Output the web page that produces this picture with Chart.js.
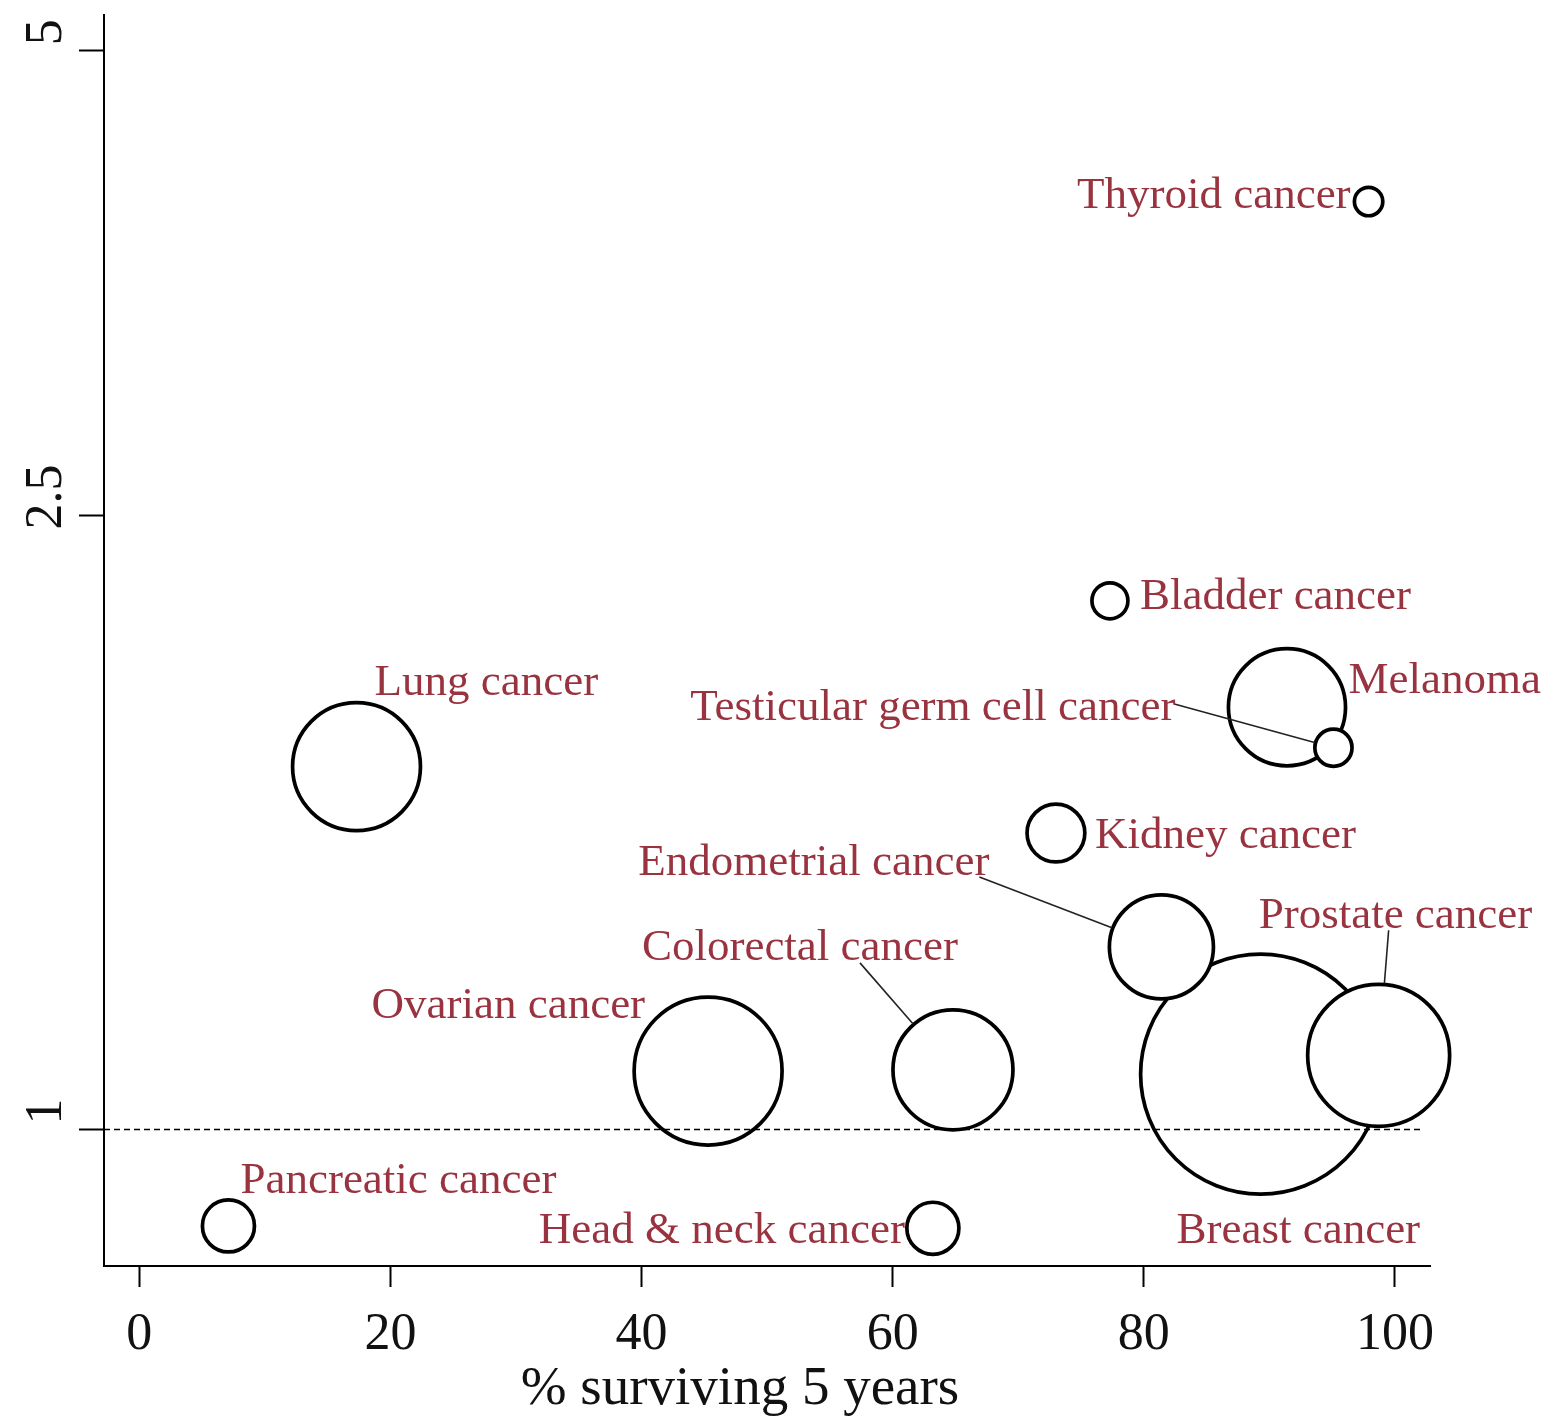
<!DOCTYPE html>
<html><head><meta charset="utf-8">
<script src="https://cdn.jsdelivr.net/npm/chart.js@4/dist/chart.umd.min.js"></script>
<style>html,body{margin:0;padding:0;background:#fff}#wrap{width:1549px;height:1420px;position:relative}canvas{display:block}</style>
</head><body><div id="wrap"><canvas id="c" width="1549" height="1420" style="width:1549px;height:1420px"></canvas></div>
<script>
// ---- data ----
const cancers = ['Breast cancer','Thyroid cancer','Bladder cancer','Melanoma','Testicular germ cell cancer','Lung cancer','Kidney cancer','Endometrial cancer','Ovarian cancer','Colorectal cancer','Prostate cancer','Pancreatic cancer','Head & neck cancer'];
const survival5y = [89.3, 97.9, 77.3, 91.4, 95.1, 17.3, 73.0, 81.4, 45.3, 64.8, 98.7, 7.1, 63.2];
const ratio = [1.086, 3.99, 2.20, 1.877, 1.767, 1.718, 1.556, 1.313, 1.091, 1.093, 1.117, 0.866, 0.863];
const weight = [100, 1.4, 2.25, 23.8, 2.4, 28.4, 5.8, 18.8, 38, 25, 35, 4.7, 4.7];
const xTicks = [0, 20, 40, 60, 80, 100];
const yTicks = [1, 2.5, 5];
const refValue = 1;
const refSpan = [-2.81, 102];
const xTitle = '% surviving 5 years';

// ---- layout / styling (not data) ----
const xRange = [-2.81, 102.79];
const yRange = [0.8158, 5.270];
const SERIF = "'Liberation Serif','Times New Roman',serif";
const LABEL_COLOR = '#993340';
const labelLayout = {
  'Breast cancer': {dx:159.5, dy:168.5, align:'right'},
  'Thyroid cancer': {dx:-18, dy:6, align:'right'},
  'Bladder cancer': {dx:30, dy:8, align:'left'},
  'Melanoma': {dx:61.5, dy:-14.5, align:'left'},
  'Testicular germ cell cancer': {dx:-158, dy:-28, align:'right', lead:[-160,-44]},
  'Lung cancer': {dx:18, dy:-71.5, align:'left'},
  'Kidney cancer': {dx:39, dy:15, align:'left'},
  'Endometrial cancer': {dx:-172, dy:-72, align:'right', lead:[-182,-70]},
  'Ovarian cancer': {dx:-63, dy:-53, align:'right'},
  'Colorectal cancer': {dx:5, dy:-110, align:'right', lead:[-93,-107]},
  'Prostate cancer': {dx:-120, dy:-127, align:'left', lead:[10,-125]},
  'Pancreatic cancer': {dx:12, dy:-33, align:'left'},
  'Head & neck cancer': {dx:-28, dy:15, align:'right'}
};
const radiusOf = w => 12 * Math.sqrt(w);

const bubbleData = cancers.map((c, i) => ({x: survival5y[i], y: ratio[i], r: radiusOf(weight[i])}));

const annot = {
  id: 'annot',
  afterDatasetsDraw(chart) {
    const ctx = chart.ctx;
    const meta = chart.getDatasetMeta(1);
    ctx.save();
    meta.data.forEach((pt, i) => {
      const L = labelLayout[cancers[i]];
      const r = bubbleData[i].r;
      if (L.lead) {
        const sx = pt.x + L.lead[0], sy = pt.y + L.lead[1];
        const vx = sx - pt.x, vy = sy - pt.y, d = Math.hypot(vx, vy);
        const ex = pt.x + vx / d * (r + 1), ey = pt.y + vy / d * (r + 1);
        ctx.beginPath(); ctx.moveTo(sx, sy); ctx.lineTo(ex, ey);
        ctx.strokeStyle = '#222'; ctx.lineWidth = 1.6; ctx.stroke();
      }
      ctx.fillStyle = LABEL_COLOR;
      ctx.font = '45px ' + SERIF;
      ctx.textAlign = L.align; ctx.textBaseline = 'alphabetic';
      ctx.fillText(cancers[i], pt.x + L.dx, pt.y + L.dy);
    });
    ctx.restore();
  },
  afterDraw(chart) {
    const ctx = chart.ctx;
    const ys = chart.scales.y;
    ctx.save();
    ctx.fillStyle = '#111';
    ctx.font = '52px ' + SERIF;
    ys.ticks.forEach(t => {
      const py = ys.getPixelForValue(t.value);
      ctx.save();
      ctx.translate(47, py - 18);
      ctx.rotate(-Math.PI / 2);
      ctx.textAlign = 'center'; ctx.textBaseline = 'middle';
      ctx.fillText(String(t.value), 0, 0);
      ctx.restore();
    });
    ctx.font = '55px ' + SERIF;
    ctx.textAlign = 'center'; ctx.textBaseline = 'alphabetic';
    ctx.fillText(xTitle, 740, 1404);
    ctx.restore();
  }
};

new Chart(document.getElementById('c'), {
  data: {
    datasets: [
      {
        type: 'line', order: 0,
        data: refSpan.map(v => ({x: v, y: refValue})),
        borderColor: '#000', borderWidth: 1.5, borderDash: [6, 4],
        pointRadius: 0, fill: false
      },
      {
        type: 'bubble', order: 1, clip: false,
        data: bubbleData,
        backgroundColor: '#ffffff', borderColor: '#000', borderWidth: 3.7
      }
    ]
  },
  options: {
    responsive: false, maintainAspectRatio: false, animation: false, events: [],
    devicePixelRatio: 1,
    layout: {autoPadding: false, padding: {top: 15, right: 119, left: 0, bottom: 0}},
    plugins: {legend: {display: false}, tooltip: {enabled: false}},
    scales: {
      x: {
        type: 'linear', min: xRange[0], max: xRange[1],
        afterBuildTicks: s => { s.ticks = xTicks.map(v => ({value: v})); },
        afterFit: s => { s.height = 154; },
        grid: {drawOnChartArea: false, drawTicks: true, tickLength: 21, tickWidth: 2, tickColor: '#000'},
        border: {display: true, color: '#000', width: 2},
        ticks: {font: {family: SERIF, size: 52}, color: '#111', padding: 17, maxRotation: 0, minRotation: 0, autoSkip: false}
      },
      y: {
        type: 'logarithmic', min: yRange[0], max: yRange[1],
        afterBuildTicks: s => { s.ticks = yTicks.map(v => ({value: v})); },
        afterFit: s => { s.width = 104; },
        grid: {drawOnChartArea: false, drawTicks: true, tickLength: 25, tickWidth: 2, tickColor: '#000'},
        border: {display: true, color: '#000', width: 2},
        ticks: {display: false}
      }
    }
  },
  plugins: [annot]
});
</script>
</body></html>
